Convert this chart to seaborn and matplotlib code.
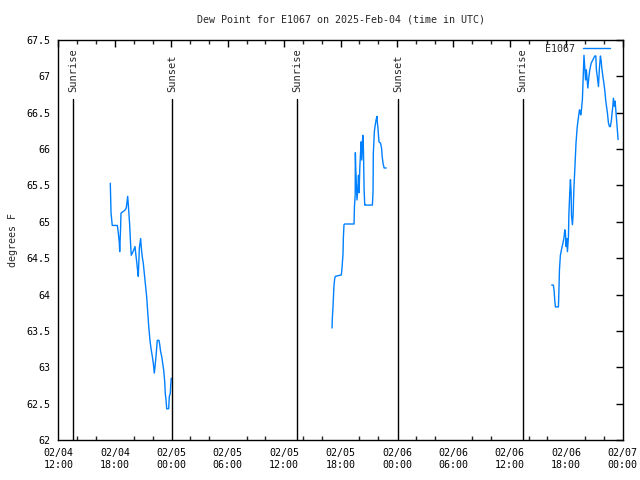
import pandas as pd
import matplotlib
matplotlib.use("Agg")
import matplotlib.pyplot as plt
import matplotlib.dates as mdates
import seaborn as sns

# hours after 2025-02-04 12:00 UTC, dew point in F
seg1_hours = [5.51, 5.59, 5.72, 6.26, 6.36, 6.47, 6.51, 6.60, 6.65, 7.07, 7.21, 7.36,
              7.43, 7.57, 7.68, 7.74, 7.93, 8.14, 8.21, 8.32, 8.43, 8.49, 8.60, 8.74,
              8.81, 8.91, 9.02, 9.20, 9.38, 9.49, 9.60, 9.73, 9.84, 9.98, 10.09, 10.19,
              10.27, 10.37, 10.51, 10.69, 10.77, 10.87, 10.98, 11.09, 11.19, 11.30,
              11.36, 11.44, 11.51, 11.72, 11.79, 11.89, 11.94, 12.00]
seg1_dew = [65.53, 65.12, 64.95, 64.95, 64.85, 64.71, 64.59, 64.89, 65.12, 65.16, 65.19,
            65.35, 65.23, 64.96, 64.67, 64.54, 64.59, 64.66, 64.57, 64.45, 64.31, 64.25,
            64.64, 64.77, 64.64, 64.52, 64.43, 64.20, 63.97, 63.76, 63.56, 63.37, 63.26,
            63.15, 63.05, 62.92, 63.01, 63.15, 63.37, 63.37, 63.31, 63.21, 63.15, 63.05,
            62.96, 62.80, 62.64, 62.55, 62.43, 62.43, 62.60, 62.64, 62.76, 62.85]

seg2_hours = [29.10, 29.12, 29.20, 29.30, 29.38, 29.45, 30.09, 30.17, 30.27, 30.30,
              30.37, 30.45, 31.44, 31.48, 31.56, 31.58, 31.63, 31.75, 31.85, 31.91,
              31.98, 32.05, 32.12, 32.19, 32.26, 32.37, 32.44, 32.51, 32.58, 32.66, 32.73,
              32.80, 32.86, 33.39, 33.46, 33.49, 33.60, 33.67, 33.78, 33.88, 33.91, 33.98,
              34.09, 34.26, 34.37, 34.43, 34.53, 34.64, 34.86]
seg2_dew = [63.54, 63.65, 63.83, 64.11, 64.22, 64.25, 64.27, 64.38, 64.57, 64.77,
            64.96, 64.97, 64.97, 65.21, 65.37, 65.95, 65.71, 65.30, 65.47, 65.64,
            65.40, 65.74, 65.92, 66.10, 65.85, 66.19, 65.99, 65.44, 65.23, 65.23, 65.23,
            65.23, 65.23, 65.23, 65.41, 65.94, 66.24, 66.31, 66.40, 66.45, 66.38, 66.29,
            66.10, 66.08, 66.01, 65.90, 65.80, 65.74, 65.74]

seg3_hours = [52.47, 52.64, 52.72, 52.79, 52.86, 53.18, 53.22, 53.29, 53.39, 53.54,
              53.65, 53.76, 53.86, 53.93, 54.00, 54.07, 54.14, 54.25, 54.29, 54.39,
              54.46, 54.53, 54.57, 54.67, 54.74, 54.82, 54.92, 55.05, 55.17, 55.27,
              55.42, 55.48, 55.56, 55.63, 55.73, 55.80, 55.90, 56.00, 56.07, 56.15,
              56.31, 56.41, 56.52, 56.66, 57.05, 57.16, 57.22, 57.33, 57.44, 57.54,
              57.65, 57.73, 57.80, 57.91, 58.01, 58.12, 58.22, 58.39, 58.50, 58.61,
              58.71, 58.82, 58.89, 58.97, 59.03, 59.14, 59.21, 59.53]
seg3_dew = [64.13, 64.13, 64.06, 63.92, 63.83, 63.83, 63.99, 64.34, 64.54, 64.64,
            64.70, 64.77, 64.89, 64.84, 64.66, 64.77, 64.59, 64.80, 65.09, 65.41,
            65.58, 65.41, 65.09, 64.96, 65.09, 65.44, 65.71, 66.08, 66.29, 66.40,
            66.54, 66.52, 66.47, 66.54, 66.68, 66.93, 67.29, 67.09, 66.95, 67.09,
            66.84, 66.98, 67.09, 67.18, 67.28, 67.28, 67.09, 66.98, 66.86, 67.11,
            67.28, 67.21, 67.11, 67.00, 66.91, 66.80, 66.66, 66.50, 66.36, 66.31,
            66.31, 66.40, 66.50, 66.59, 66.70, 66.59, 66.66, 66.13]

sun_events = ["Sunrise", "Sunset", "Sunrise", "Sunset", "Sunrise"]
sun_times = ["2025-02-04 13:33", "2025-02-05 00:06", "2025-02-05 13:24",
             "2025-02-06 00:09", "2025-02-06 13:22"]

start = pd.Timestamp("2025-02-04 12:00")
line_color = "#0080ff"

sns.set_theme(style="white")
plt.rcParams["font.family"] = ["DejaVu Sans Mono"]

fig, ax = plt.subplots(figsize=(6.4, 4.8), dpi=100)
fig.subplots_adjust(left=0.0914, right=0.9727, top=0.9167, bottom=0.0833)

segments = [(seg1_hours, seg1_dew), (seg2_hours, seg2_dew), (seg3_hours, seg3_dew)]
for i, (hrs, dew) in enumerate(segments):
    df = pd.DataFrame({"time": start + pd.to_timedelta(hrs, unit="h"), "dew": dew})
    sns.lineplot(data=df, x="time", y="dew", ax=ax, color=line_color, linewidth=1,
                 sort=False, label="E1067" if i == 0 else None)

# sunrise / sunset markers
for name, t in zip(sun_events, sun_times):
    tt = pd.Timestamp(t)
    ax.axvline(tt, ymin=0, ymax=0.8525, color="black", linewidth=1)
    ax.text(tt, 66.78, name, rotation=90, ha="center", va="bottom", fontsize=7.5)

ax.set_xlim(start, pd.Timestamp("2025-02-07 00:00"))
ax.set_ylim(62, 67.5)
ax.xaxis.set_major_locator(mdates.HourLocator(byhour=[0, 6, 12, 18]))
ax.xaxis.set_major_formatter(mdates.DateFormatter("%m/%d\n%H:%M"))
ax.xaxis.set_minor_locator(mdates.HourLocator(byhour=range(0, 24, 2)))
ax.set_yticks([62 + 0.5 * k for k in range(12)])
ax.set_yticklabels(["%g" % (62 + 0.5 * k) for k in range(12)])

ax.tick_params(axis="both", which="major", direction="in", length=5, width=1,
               top=True, right=True, labelsize=7.2, colors="black", pad=6)
ax.tick_params(axis="x", which="minor", direction="in", length=3, width=1,
               top=True, bottom=True)
for s in ax.spines.values():
    s.set_color("black")
    s.set_linewidth(1)

ax.set_xlabel("")
ax.set_ylabel("degrees F", fontsize=7.2, labelpad=6)
ax.set_title("Dew Point for E1067 on 2025-Feb-04 (time in UTC)", fontsize=7.2, pad=12.5)

leg = ax.legend(loc="upper right", bbox_to_anchor=(0.984, 1.0), borderaxespad=0,
                frameon=False, markerfirst=False, fontsize=7.2, handlelength=2.7)

plt.savefig("out.png", dpi=100)
